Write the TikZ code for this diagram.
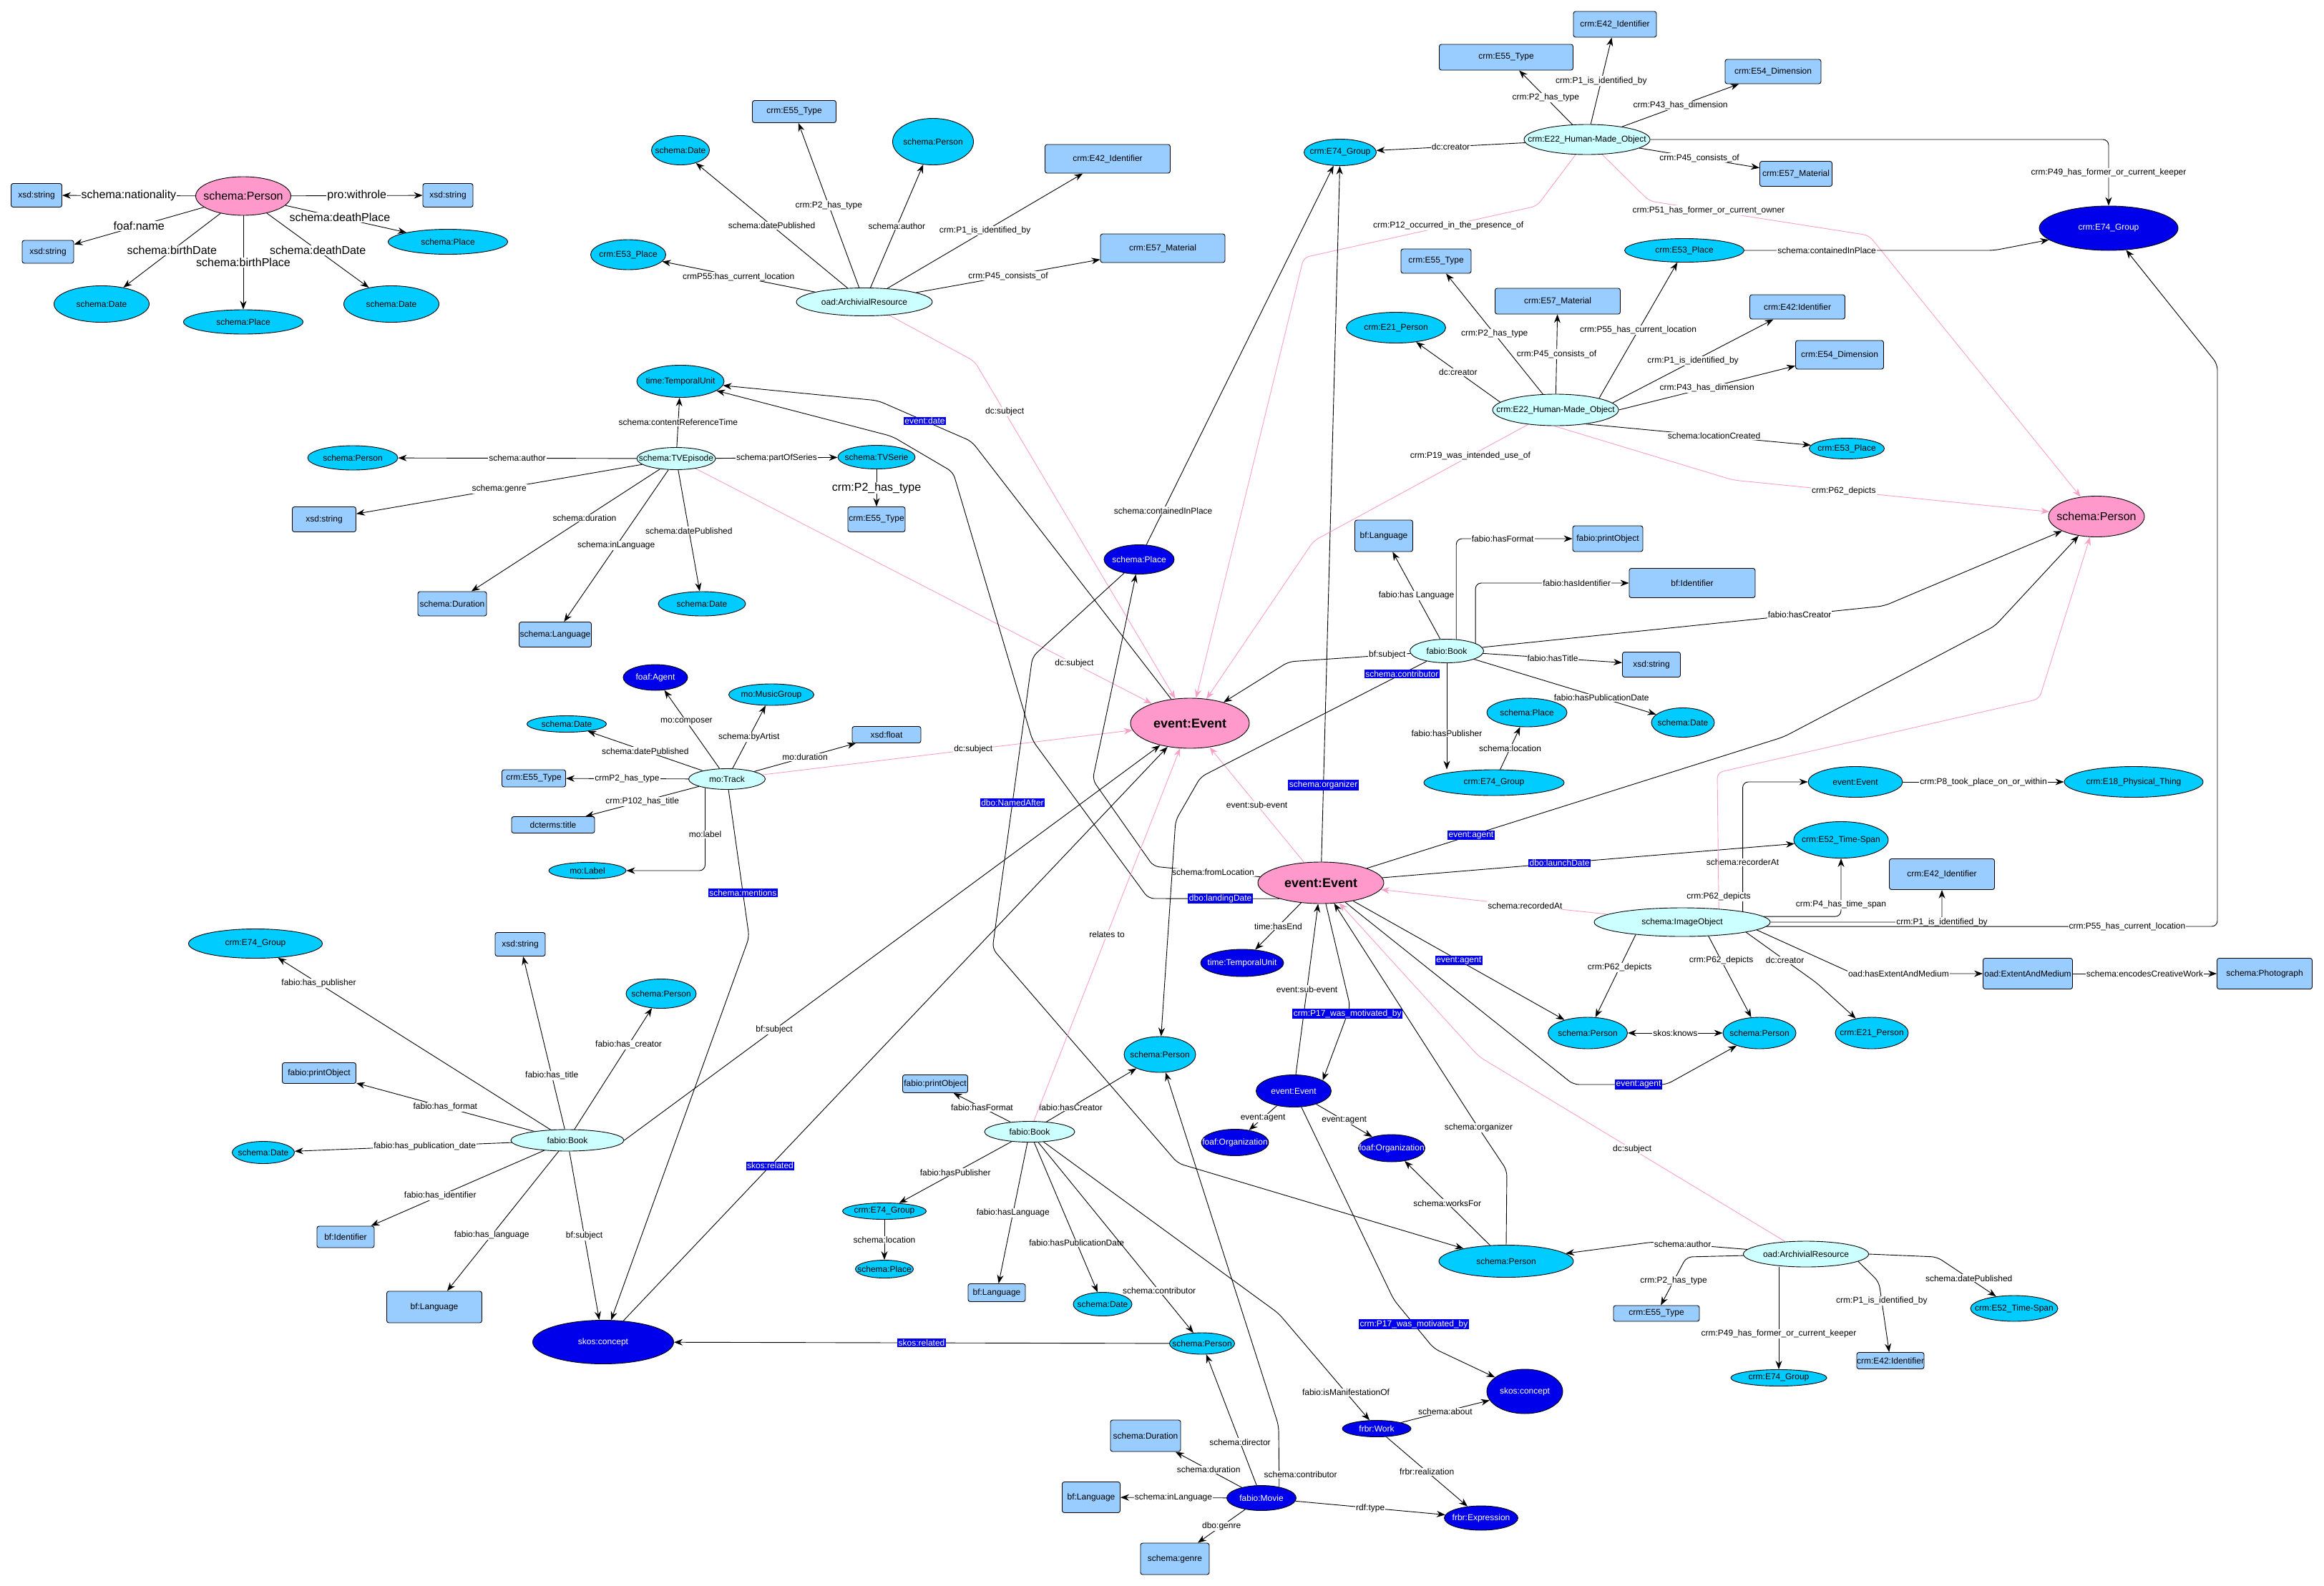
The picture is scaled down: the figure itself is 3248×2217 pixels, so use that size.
\documentclass[tikz,border=0pt]{standalone}
\usepackage{fontspec}
\setmainfont{Liberation Sans}
\usetikzlibrary{arrows.meta, shapes.geometric, backgrounds}

\definecolor{pinkfill}{RGB}{255,153,204}
\definecolor{cyanfill}{RGB}{0,204,255}
\definecolor{lightcyan}{RGB}{204,255,255}
\definecolor{bluefill}{RGB}{0,0,235}
\definecolor{boxfill}{RGB}{153,204,255}
\definecolor{pinkline}{RGB}{250,160,200}

\begin{document}
\begin{tikzpicture}[
  x=1pt, y=-1pt,
  font=\fontsize{12}{14}\selectfont,
  wh/.style 2 args={minimum width=#1pt, minimum height=#2pt},
  base/.style={draw=black, line width=0.9pt, inner sep=0pt,
    execute at begin node={\hbox to 0pt\bgroup\hss},
    execute at end node={\hss\egroup}},
  pinknode/.style={base, ellipse, fill=pinkfill, font=\fontsize{16}{18}\selectfont},
  eventnode/.style={pinknode, font=\fontsize{18}{20}\selectfont\bfseries},
  cyannode/.style={base, ellipse, fill=cyanfill},
  lightnode/.style={base, ellipse, fill=lightcyan},
  bluenode/.style={base, ellipse, fill=bluefill, text=white},
  boxnode/.style={base, rectangle, rounded corners=3pt, fill=boxfill},
  arrow/.style={-{Stealth[length=12pt, width=9pt]}, line width=0.9pt, draw=black, rounded corners=8pt},
  parrow/.style={arrow, draw=pinkline},
  both/.style={arrow, {Stealth[length=12pt, width=9pt]}-{Stealth[length=12pt, width=9pt]}},
  lbl/.style={sharp corners, fill=white, inner sep=1pt, text=black},
  biglbl/.style={lbl, font=\fontsize{16}{18}\selectfont},
  blbl/.style={sharp corners, fill=bluefill, text=white, inner sep=1.5pt}
]
\useasboundingbox (0,0) rectangle (3248,2217);

% === PERSON (top left) ===
\node[pinknode, wh={133}{54}] (personA) at (340,274) {schema:Person};
\node[boxnode, wh={71}{33}] (strA) at (51,273) {xsd:string};
\node[boxnode, wh={70}{33}] (strB) at (626,273) {xsd:string};
\node[boxnode, wh={72}{32}] (strC) at (67,352) {xsd:string};
\node[cyannode, wh={167}{35}] (placeA) at (626,338) {schema:Place};
\node[cyannode, wh={133}{51}] (dateA) at (142,425) {schema:Date};
\node[cyannode, wh={167}{34}] (placeB) at (340,450) {schema:Place};
\node[cyannode, wh={133}{51}] (dateB) at (547,425) {schema:Date};

% === ARCHIVIAL RESOURCE (top) ===
\node[lightnode, wh={190}{39}] (archA) at (1208,422) {oad:ArchivialResource};
\node[boxnode, wh={117}{31}] (typeA) at (1110,156) {crm:E55\_Type};
\node[cyannode, wh={81}{41}] (dateC) at (951,210) {schema:Date};
\node[cyannode, wh={113}{65}] (personB) at (1304,198) {schema:Person};
\node[boxnode, wh={175}{40}] (identA) at (1548,222) {crm:E42\_Identifier};
\node[boxnode, wh={174}{40}] (matA) at (1625,347) {crm:E57\_Material};
\node[cyannode, wh={105}{42}] (placeC) at (878,356) {crm:E53\_Place};

% === HUMAN-MADE OBJECT (top right) ===
\node[lightnode, wh={176}{42}] (objA) at (2218,195) {crm:E22\_Human-Made\_Object};
\node[cyannode, wh={101}{37}] (groupA) at (1873,213) {crm:E74\_Group};
\node[boxnode, wh={187}{36}] (typeB) at (2105,80) {crm:E55\_Type};
\node[boxnode, wh={116}{36}] (identB) at (2257,34) {crm:E42\_Identifier};
\node[boxnode, wh={134}{34}] (dimA) at (2478,100) {crm:E54\_Dimension};
\node[boxnode, wh={101}{35}] (matB) at (2510,243) {crm:E57\_Material};
\node[bluenode, wh={194}{62}] (groupB) at (2947,319) {crm:E74\_Group};
\node[cyannode, wh={167}{33}] (placeD) at (2354,350) {crm:E53\_Place};

% === HUMAN-MADE OBJECT (middle right) ===
\node[lightnode, wh={176}{44}] (objB) at (2174,573) {crm:E22\_Human-Made\_Object};
\node[boxnode, wh={98}{34}] (typeC) at (2007,365) {crm:E55\_Type};
\node[boxnode, wh={175}{36}] (matC) at (2177,421) {crm:E57\_Material};
\node[boxnode, wh={133}{34}] (identC) at (2512,429) {crm:E42:Identifier};
\node[boxnode, wh={123}{40}] (dimB) at (2571,496) {crm:E54\_Dimension};
\node[cyannode, wh={139}{43}] (agentA) at (1951,458) {crm:E21\_Person};
\node[cyannode, wh={105}{29}] (placeE) at (2581,627) {crm:E53\_Place};
\node[pinknode, wh={134}{57}] (personC) at (2930,722) {schema:Person};

% === TV EPISODE ===
\node[cyannode, wh={122}{45}] (timeA) at (951,533) {time:TemporalUnit};
\node[lightnode, wh={110}{31}] (episode) at (945,641) {schema:TVEpisode};
\node[cyannode, wh={126}{34}] (personD) at (493,640) {schema:Person};
\node[cyannode, wh={108}{33}] (serie) at (1225,639) {schema:TVSerie};
\node[boxnode, wh={80}{35}] (typeD) at (1225,726) {crm:E55\_Type};
\node[boxnode, wh={89}{35}] (strD) at (453,726) {xsd:string};
\node[boxnode, wh={96}{34}] (durA) at (632,844) {schema:Duration};
\node[boxnode, wh={101}{35}] (langA) at (776,887) {schema:Language};
\node[cyannode, wh={122}{34}] (dateD) at (981,844) {schema:Date};

% === TRACK ===
\node[lightnode, wh={107}{29}] (track) at (1016,1089) {mo:Track};
\node[bluenode, wh={90}{36}] (agentB) at (916,947) {foaf:Agent};
\node[cyannode, wh={119}{30}] (music) at (1078,971) {mo:MusicGroup};
\node[cyannode, wh={111}{23}] (dateE) at (792,1012) {schema:Date};
\node[boxnode, wh={96}{23}] (floatA) at (1239,1027) {xsd:float};
\node[boxnode, wh={89}{24}] (typeE) at (746,1088) {crm:E55\_Type};
\node[boxnode, wh={116}{23}] (titleA) at (773,1153) {dcterms:title};
\node[cyannode, wh={108}{23}] (labelA) at (821,1217) {mo:Label};

% === EVENTS (centre) ===
\node[bluenode, wh={98}{41}] (placeF) at (1592,782) {schema:Place};
\node[eventnode, wh={166}{70}] (eventA) at (1663,1011) {event:Event};
\node[eventnode, wh={176}{58}] (eventB) at (1846,1234) {event:Event};
\node[bluenode, wh={116}{38}] (timeB) at (1736,1346) {time:TemporalUnit};

% === BOOK (right) ===
\node[lightnode, wh={103}{33}] (bookA) at (2022,910) {fabio:Book};
\node[boxnode, wh={81}{44}] (langB) at (1934,749) {bf:Language};
\node[boxnode, wh={98}{36}] (printA) at (2247,753) {fabio:printObject};
\node[boxnode, wh={176}{41}] (bfidA) at (2365,815) {bf:Identifier};
\node[boxnode, wh={81}{35}] (strE) at (2308,929) {xsd:string};
\node[cyannode, wh={88}{41}] (dateF) at (2352,1010) {schema:Date};
\node[cyannode, wh={112}{40}] (placeG) at (2134,996) {schema:Place};
\node[cyannode, wh={196}{36}] (groupC) at (2088,1094) {crm:E74\_Group};

% === IMAGE OBJECT ===
\node[lightnode, wh={246}{40}] (image) at (2351,1289) {schema:ImageObject};
\node[cyannode, wh={132}{43}] (eventC) at (2593,1093) {event:Event};
\node[cyannode, wh={194}{43}] (thing) at (2982,1093) {crm:E18\_Physical\_Thing};
\node[cyannode, wh={132}{51}] (spanA) at (2573,1174) {crm:E52\_Time-Span};
\node[boxnode, wh={147}{43}] (identD) at (2714,1222) {crm:E42\_Identifier};
\node[boxnode, wh={125}{43}] (medium) at (2834,1361) {oad:ExtentAndMedium};
\node[boxnode, wh={133}{43}] (photo) at (3165,1361) {schema:Photograph};
\node[cyannode, wh={111}{44}] (personE) at (2219,1444) {schema:Person};
\node[cyannode, wh={102}{44}] (personF) at (2459,1444) {schema:Person};
\node[cyannode, wh={102}{44}] (agentC) at (2616,1444) {crm:E21\_Person};

% === BOOK (bottom left) ===
\node[cyannode, wh={187}{41}] (groupD) at (357,1319) {crm:E74\_Group};
\node[boxnode, wh={70}{33}] (strF) at (727,1320) {xsd:string};
\node[cyannode, wh={98}{41}] (personG) at (924,1389) {schema:Person};
\node[boxnode, wh={103}{29}] (printB) at (446,1500) {fabio:printObject};
\node[cyannode, wh={87}{31}] (dateG) at (368,1611) {schema:Date};
\node[lightnode, wh={158}{30}] (bookB) at (793,1594) {fabio:Book};
\node[boxnode, wh={80}{30}] (bfidB) at (483,1729) {bf:Identifier};
\node[boxnode, wh={133}{44}] (langC) at (607,1827) {bf:Language};
\node[bluenode, wh={197}{61}] (conceptA) at (843,1876) {skos:concept};

% === BOOK (bottom centre) ===
\node[boxnode, wh={91}{25}] (printC) at (1307,1515) {fabio:printObject};
\node[lightnode, wh={126}{29}] (bookC) at (1439,1582) {fabio:Book};
\node[cyannode, wh={100}{50}] (personH) at (1621,1474) {schema:Person};
\node[cyannode, wh={117}{23}] (groupE) at (1236,1693) {crm:E74\_Group};
\node[cyannode, wh={81}{25}] (placeH) at (1236,1774) {schema:Place};
\node[boxnode, wh={80}{25}] (langD) at (1393,1807) {bf:Language};
\node[cyannode, wh={82}{33}] (dateH) at (1541,1823) {schema:Date};
\node[cyannode, wh={91}{30}] (personI) at (1680,1878) {schema:Person};

% === MOVIE AND EVENT (bottom right) ===
\node[bluenode, wh={105}{45}] (eventD) at (1808,1525) {event:Event};
\node[bluenode, wh={94}{37}] (orgA) at (1726,1597) {foaf:Organization};
\node[bluenode, wh={93}{38}] (orgB) at (1945,1605) {foaf:Organization};
\node[cyannode, wh={188}{45}] (personJ) at (2105,1763) {schema:Person};
\node[bluenode, wh={106}{62}] (conceptB) at (2131,1945) {skos:concept};
\node[bluenode, wh={96}{23}] (work) at (1924,1997) {frbr:Work};
\node[bluenode, wh={103}{34}] (expr) at (2070,2122) {frbr:Expression};
\node[bluenode, wh={97}{35}] (movie) at (1763,2094) {fabio:Movie};
\node[boxnode, wh={98}{44}] (durB) at (1601,2007) {schema:Duration};
\node[boxnode, wh={81}{43}] (langE) at (1525,2093) {bf:Language};
\node[boxnode, wh={96}{44}] (genre) at (1642,2179) {schema:genre};

% === ARCHIVIAL RESOURCE (bottom) ===
\node[lightnode, wh={175}{36}] (archB) at (2524,1753) {oad:ArchivialResource};
\node[boxnode, wh={120}{22}] (typeF) at (2315,1836) {crm:E55\_Type};
\node[cyannode, wh={134}{23}] (groupF) at (2486,1926) {crm:E74\_Group};
\node[boxnode, wh={94}{23}] (identE) at (2642,1902) {crm:E42:Identifier};
\node[cyannode, wh={122}{36}] (spanB) at (2815,1829) {crm:E52\_Time-Span};

\begin{scope}[on background layer]
\fill[white] (0,0) rectangle (3248,2217);

% top left person
\draw[arrow] (personA) -- node[biglbl] {schema:nationality} (strA);
\draw[arrow] (personA) -- node[biglbl] {pro:withrole} (strB);
\draw[arrow] (personA) -- node[biglbl] {foaf:name} (strC);
\draw[arrow] (personA) -- node[biglbl, pos=0.45] {schema:deathPlace} (placeA);
\draw[arrow] (personA) -- node[biglbl] {schema:birthDate} (dateA);
\draw[arrow] (personA) -- node[biglbl] {schema:birthPlace} (placeB);
\draw[arrow] (personA) -- node[biglbl] {schema:deathDate} (dateB);

% archivial resource (top)
\draw[arrow] (archA) -- node[lbl] {schema:datePublished} (dateC);
\draw[arrow] (archA) -- node[lbl] {crmP55:has\_current\_location} (placeC);
\draw[arrow] (archA) -- node[lbl] {crm:P2\_has\_type} (typeA);
\draw[arrow] (archA) -- node[lbl] {schema:author} (personB);
\draw[arrow] (archA) -- node[lbl] {crm:P1\_is\_identified\_by} (identA);
\draw[arrow] (archA) -- node[lbl] {crm:P45\_consists\_of} (matA);
\draw[parrow] (archA) -- (1362,505) -- node[lbl, pos=0.15] {dc:subject} (eventA);

% human-made object (top)
\draw[arrow] (objA) -- node[lbl] {dc:creator} (groupA);
\draw[arrow] (objA) -- node[lbl] {crm:P2\_has\_type} (typeB);
\draw[arrow] (objA) -- node[lbl] {crm:P1\_is\_identified\_by} (identB);
\draw[arrow] (objA) -- node[lbl] {crm:P43\_has\_dimension} (dimA);
\draw[arrow] (objA) -- node[lbl] {crm:P45\_consists\_of} (matB);
\draw[arrow] (objA) -| node[lbl, pos=0.75] {crm:P49\_has\_former\_or\_current\_keeper} (groupB);
\draw[parrow] (objA) -- (2148,288) -- node[lbl, pos=0.38] {crm:P12\_occurred\_in\_the\_presence\_of} (1822,360) -- (eventA);
\draw[parrow] (objA) -- (2305,281) -- node[lbl, pos=0.27] {crm:P51\_has\_former\_or\_current\_owner} (2612,329) -- (personC);
\draw[arrow] (placeD) -- node[lbl, pos=0.33] {schema:containedInPlace} (2787,350) -- (groupB);

% human-made object (middle)
\draw[arrow] (objB.15) -- node[lbl] {crm:P55\_has\_current\_location} (placeD);
\draw[arrow] (objB) -- node[lbl] {crm:P45\_consists\_of} (matC);
\draw[arrow] (objB) -- node[lbl] {crm:P2\_has\_type} (typeC);
\draw[arrow] (objB.172) -- node[lbl] {dc:creator} (agentA);
\draw[arrow] (objB.7) -- node[lbl] {crm:P1\_is\_identified\_by} (identC);
\draw[arrow] (objB.east) -- node[lbl] {crm:P43\_has\_dimension} (dimB);
\draw[arrow] (objB.-25) -- node[lbl, pos=0.57] {schema:locationCreated} (placeE);
\draw[parrow] (objB.-95) -- (2422,671) -- node[lbl, pos=0.35] {crm:P62\_depicts} (personC);
\draw[parrow] (objB.208) -- node[lbl, pos=0.27] {crm:P19\_was\_intended\_use\_of} (1836,756) -- (eventA);

% tv episode
\draw[arrow] (episode) -- node[lbl] {schema:contentReferenceTime} (timeA);
\draw[arrow] (episode) -- node[lbl] {schema:author} (personD);
\draw[arrow] (episode) -- node[lbl] {schema:partOfSeries} (serie);
\draw[arrow] (serie) -- node[biglbl] {crm:P2\_has\_type} (typeD);
\draw[arrow] (episode) -- node[lbl] {schema:genre} (strD);
\draw[arrow] (episode) -- node[lbl, pos=0.4] {schema:duration} (durA);
\draw[arrow] (episode) -- node[lbl] {schema:inLanguage} (langA);
\draw[arrow] (episode) -- node[lbl] {schema:datePublished} (dateD);
\draw[parrow] (episode) -- node[lbl, pos=0.83] {dc:subject} (eventA);

% track
\draw[arrow] (track) -- node[lbl, pos=0.6] {mo:composer} (agentB);
\draw[arrow] (track) -- node[lbl] {schema:byArtist} (music);
\draw[arrow] (track) -- node[lbl] {mo:duration} (floatA);
\draw[arrow] (track) -- node[lbl] {schema:datePublished} (dateE);
\draw[arrow] (track) -- node[lbl] {crmP2\_has\_type} (typeE);
\draw[arrow] (track) -- node[lbl] {crm:P102\_has\_title} (titleA);
\draw[arrow] (track.-158) |- node[lbl, pos=0.28] {mo:label} (labelA);
\draw[arrow] (track) -- node[blbl, pos=0.7] {schema:mentions} (1047,1310) -- (conceptA);
\draw[parrow] (track) -- node[lbl, pos=0.57] {dc:subject} (eventA);

% events
\draw[arrow] (placeF) -- node[lbl, pos=0.09] {schema:containedInPlace} (groupA);
\draw[arrow] (placeF) -- (1443,918) -- node[blbl] {dbo:NamedAfter} (1387,1326) -- (1646,1626) -- (personJ);
\draw[arrow] (eventA) -- (1358,617) -- node[blbl] {event:date} (1227,560) -- (timeA);
\draw[parrow] (eventB) -- node[lbl] {event:sub-event} (eventA);
\draw[arrow] (eventB) -- node[blbl, pos=0.11] {schema:organizer} (groupA);
\draw[arrow] (eventB) -- node[lbl, pos=0.44] {schema:fromLocation} (1612,1211) -- (1527,1090) -- (placeF);
\draw[arrow] (eventB.201) -- node[blbl, pos=0.45] {dbo:landingDate} (1605,1256) -- (1443,1035) -- (1332,660) -- (1247,610) -- (timeA);
\draw[arrow] (eventB) -- node[lbl] {time:hasEnd} (timeB);
\draw[arrow] (eventD) -- node[lbl] {event:sub-event} (eventB);
\draw[arrow] (eventB) -- (1887,1407) -- node[blbl, pos=0.1] {crm:P17\_was\_motivated\_by} (eventD.20);
\draw[arrow] (eventB) -- node[blbl, pos=0.43] {dbo:launchDate} (spanA);
\draw[arrow] (eventB) -- node[blbl, pos=0.25] {event:agent} (2493,1030) -- (2788,875) -- (personC);
\draw[arrow] (eventB) -- node[blbl] {event:agent} (personE);
\draw[arrow] (eventB) -- (2199,1516) -- node[blbl, pos=0.7] {event:agent} (2329,1516) -- (personF);
\draw[arrow] (personJ.north) -- (2106,1636) -- node[lbl, pos=0.86] {schema:organizer} (2060,1567) -- (eventB);
\draw[parrow] (archB) -- node[lbl] {dc:subject} (2067,1477) -- (eventB);

% book (right)
\draw[arrow] (bookA) -- node[lbl] {fabio:has Language} (langB);
\draw[arrow] (bookA.51) |- node[lbl, pos=0.7] {fabio:hasFormat} (printA);
\draw[arrow] (bookA.15) |- node[lbl, pos=0.83] {fabio:hasIdentifier} (bfidA);
\draw[arrow] (bookA) -- node[lbl] {fabio:hasTitle} (strE);
\draw[arrow] (bookA) -- node[lbl, pos=0.7] {fabio:hasPublicationDate} (dateF);
\draw[arrow] (bookA.south) -- node[lbl, pos=0.66] {fabio:hasPublisher} (groupC.north -| bookA.south);
\draw[arrow] (groupC) -- node[lbl] {schema:location} (placeG);
\draw[arrow] (bookA) -- node[lbl, pos=0.19] {bf:subject} (1801,925) -- (eventA);
\draw[arrow] (bookA) -- node[blbl, pos=0.11] {schema:contributor} (1678,1086) -- (1643,1147) -- (personH);
\draw[arrow] (bookA) -- node[lbl, pos=0.79] {fabio:hasCreator} (2633,847) -- (personC);

% image object
\draw[arrow] (image.10) |- node[lbl, pos=0.19] {schema:recorderAt} (eventC);
\draw[arrow] (eventC) -- node[lbl] {crm:P8\_took\_place\_on\_or\_within} (thing);
\draw[arrow] (image.4) -| node[lbl, pos=0.6] {crm:P4\_has\_time\_span} (spanA);
\draw[arrow] (image.0) -| node[lbl, pos=0.5] {crm:P1\_is\_identified\_by} (identD);
\draw[arrow] (image.-3) -- node[lbl, pos=0.8] {crm:P55\_has\_current\_location} (3099,1295) -- (3099,509) -- (groupB);
\draw[arrow] (image.-6) -- (2590,1361) -- node[lbl, pos=0.35] {oad:hasExtentAndMedium} (medium);
\draw[arrow] (medium) -- node[lbl] {schema:encodesCreativeWork} (photo);
\draw[arrow] (image.-165) -- node[lbl, pos=0.4] {crm:P62\_depicts} (personE);
\draw[arrow] (image.-28) -- node[lbl, pos=0.3] {crm:P62\_depicts} (personF);
\draw[arrow] (image.-9) -- node[lbl, pos=0.55] {dc:creator} (2539,1374) -- (agentC);
\draw[both] (personE) -- node[lbl] {skos:knows} (personF);
\draw[parrow] (image) -- node[lbl, pos=0.68] {schema:recordedAt} (2077,1260) -- (eventB);
\draw[parrow] (image.20) -- node[lbl, pos=0.09] {crm:P62\_depicts} (2400,1080) -- (2850,977) -- (personC);

% book (bottom left)
\draw[arrow] (bookB) -- node[lbl, pos=0.85] {fabio:has\_publisher} (groupD);
\draw[arrow] (bookB) -- node[lbl, pos=0.31] {fabio:has\_title} (strF);
\draw[arrow] (bookB) -- node[lbl, pos=0.7] {fabio:has\_creator} (personG);
\draw[arrow] (bookB) -- node[lbl] {fabio:has\_format} (printB);
\draw[arrow] (bookB) -- node[lbl, pos=0.4] {fabio:has\_publication\_date} (dateG);
\draw[arrow] (bookB) -- node[lbl, pos=0.6] {fabio:has\_identifier} (bfidB);
\draw[arrow] (bookB) -- node[lbl, pos=0.6] {fabio:has\_language} (langC);
\draw[arrow] (bookB) -- node[lbl] {bf:subject} (conceptA);
\draw[arrow] (bookB.east) -- node[lbl, pos=0.28] {bf:subject} (eventA);
\draw[arrow] (conceptA) -- node[blbl, pos=0.27] {skos:related} (eventA);

% book (bottom centre)
\draw[arrow] (bookC) -- node[lbl] {fabio:hasFormat} (printC);
\draw[arrow] (bookC) -- node[lbl, pos=0.27] {fabio:hasCreator} (personH);
\draw[arrow] (bookC) -- node[lbl] {fabio:hasPublisher} (groupE);
\draw[arrow] (groupE) -- node[lbl] {schema:location} (placeH);
\draw[arrow] (bookC) -- node[lbl] {fabio:hasLanguage} (langD);
\draw[arrow] (bookC) -- node[lbl, pos=0.67] {fabio:hasPublicationDate} (dateH);
\draw[arrow] (bookC) -- node[lbl, pos=0.78] {schema:contributor} (personI);
\draw[arrow] (bookC) -- (1787,1836) -- node[lbl, pos=0.74] {fabio:isManifestationOf} (work);
\draw[parrow] (bookC) -- node[lbl] {relates to} (eventA);
\draw[arrow] (personI) -- node[blbl] {skos:related} (conceptA);

% movie and event (bottom right)
\draw[arrow] (movie) -- node[lbl, pos=0.33] {schema:director} (personI);
\draw[arrow] (movie.32) -- node[lbl, pos=0.2, xshift=30pt] {schema:contributor} (1787,1993) -- (personH);
\draw[arrow] (movie) -- node[lbl] {schema:duration} (durB);
\draw[arrow] (movie) -- node[lbl] {schema:inLanguage} (langE);
\draw[arrow] (movie) -- node[lbl] {dbo:genre} (genre);
\draw[arrow] (movie) -- node[lbl] {rdf:type} (expr);
\draw[arrow] (work) -- node[lbl] {schema:about} (conceptB);
\draw[arrow] (work) -- node[lbl] {frbr:realization} (expr);
\draw[arrow] (eventD) -- node[lbl] {event:agent} (orgA);
\draw[arrow] (eventD) -- node[lbl] {event:agent} (orgB);
\draw[arrow] (eventD) -- (1948,1817) -- node[blbl] {crm:P17\_was\_motivated\_by} (2004,1885) -- (conceptB);
\draw[arrow] (personJ) -- node[lbl] {schema:worksFor} (orgB);

% archivial resource (bottom)
\draw[arrow] (archB) -- node[lbl, pos=0.69] {schema:author} (2311,1736) -- (personJ);
\draw[arrow] (archB) -- (2357,1757) -- node[lbl] {crm:P2\_has\_type} (typeF);
\draw[arrow] (archB.south -| groupF.north) -- node[lbl, pos=0.65] {crm:P49\_has\_former\_or\_current\_keeper} (groupF);
\draw[arrow] (archB.-8) -- (2626,1792) -- node[lbl, pos=0.27] {crm:P1\_is\_identified\_by} (identE);
\draw[arrow] (archB.east) -- (2707,1757) -- node[lbl, pos=0.54] {schema:datePublished} (spanB);
\end{scope}

\end{tikzpicture}
\end{document}
